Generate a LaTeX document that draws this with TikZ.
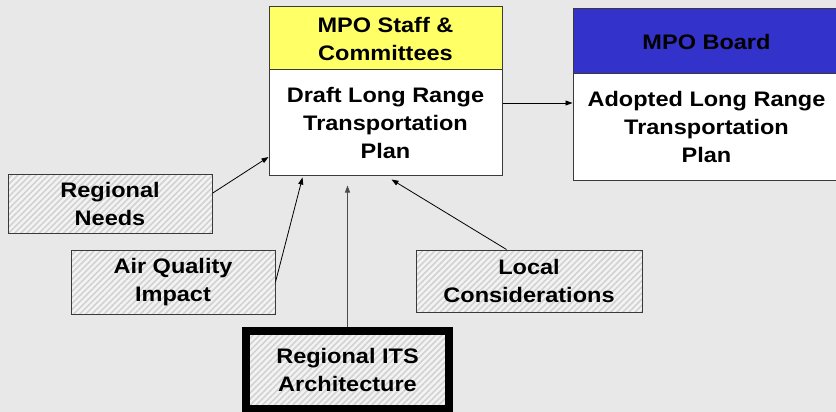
\documentclass[tikz,border=0pt]{standalone}
\usepackage{fontspec}
\setmainfont{Liberation Sans}[FakeStretch=1.12]
\usetikzlibrary{patterns.meta,arrows.meta,calc}
\definecolor{bg}{HTML}{E8E8E8}
\definecolor{hdryellow}{HTML}{FFFF66}
\definecolor{hdrblue}{HTML}{3333CC}
\definecolor{hatchbg}{HTML}{F3F3F3}
\definecolor{hatchline}{HTML}{D2D2D2}
\definecolor{edge}{HTML}{3A3A3A}
\begin{document}
\begin{tikzpicture}[x=1pt,y=-1pt,
  lbl/.style={font=\fontsize{21}{28}\selectfont\bfseries, align=center, text=black},
  plainbox/.style={lbl, draw=edge, line width=1pt, inner sep=0pt},
  hatchbox/.style={plainbox, preaction={fill=hatchbg},
    pattern={Lines[angle=45,distance=4.3pt,line width=1.6pt]}, pattern color=hatchline},
  arr/.style={-{Triangle[length=7pt,width=5pt]}, line width=0.8pt, black}]
\fill[bg] (0,0) rectangle (836,412);
\useasboundingbox (0,0) rectangle (836,412);

\node[plainbox, fill=hdryellow, minimum width=233pt, minimum height=63pt] (chdr) at (385.5,38.5) {MPO Staff \&\\Committees};
\node[plainbox, fill=white, minimum width=233pt, minimum height=105pt] (cbody) at (385.5,122.5) {Draft Long Range\\Transportation\\Plan};

\node[plainbox, fill=hdrblue, minimum width=267pt, minimum height=65pt] (rhdr) at (706.5,41.5) {MPO Board};
\node[plainbox, fill=white, minimum width=267pt, minimum height=106pt] (rbody) at (706.5,127) {Adopted Long Range\\Transportation\\Plan};

\node[hatchbox, minimum width=204pt, minimum height=59pt] (rn) at (110,203.5) {Regional\\Needs};
\node[hatchbox, minimum width=204pt, minimum height=64pt] (aq) at (173,282) {Air Quality\\Impact};
\node[hatchbox, minimum width=226pt, minimum height=62pt] (lc) at (529,281) {Local\\Considerations};
\node[hatchbox, draw=black, line width=8pt, minimum width=203pt, minimum height=78pt] (its) at (347.5,370) {Regional ITS\\Architecture};

\draw[arr] ($(rn.east)+(0,-10.5)$) -- ($(cbody.west)+(0,34.5)$);
\draw[arr] (aq.east) -- ($(cbody.south west)+(34,2)$);
\draw[arr, draw=black!70] (its.north) -- ($(its.north |- cbody.south)+(0,10)$);
\draw[arr] ($(lc.north west)+(91,0)$) -- ($(cbody.south west)+(123,4)$);
\draw[arr] ($(cbody.east)+(0,-19.5)$) -- ($(rbody.west)+(0,-24)$);
\end{tikzpicture}
\end{document}
